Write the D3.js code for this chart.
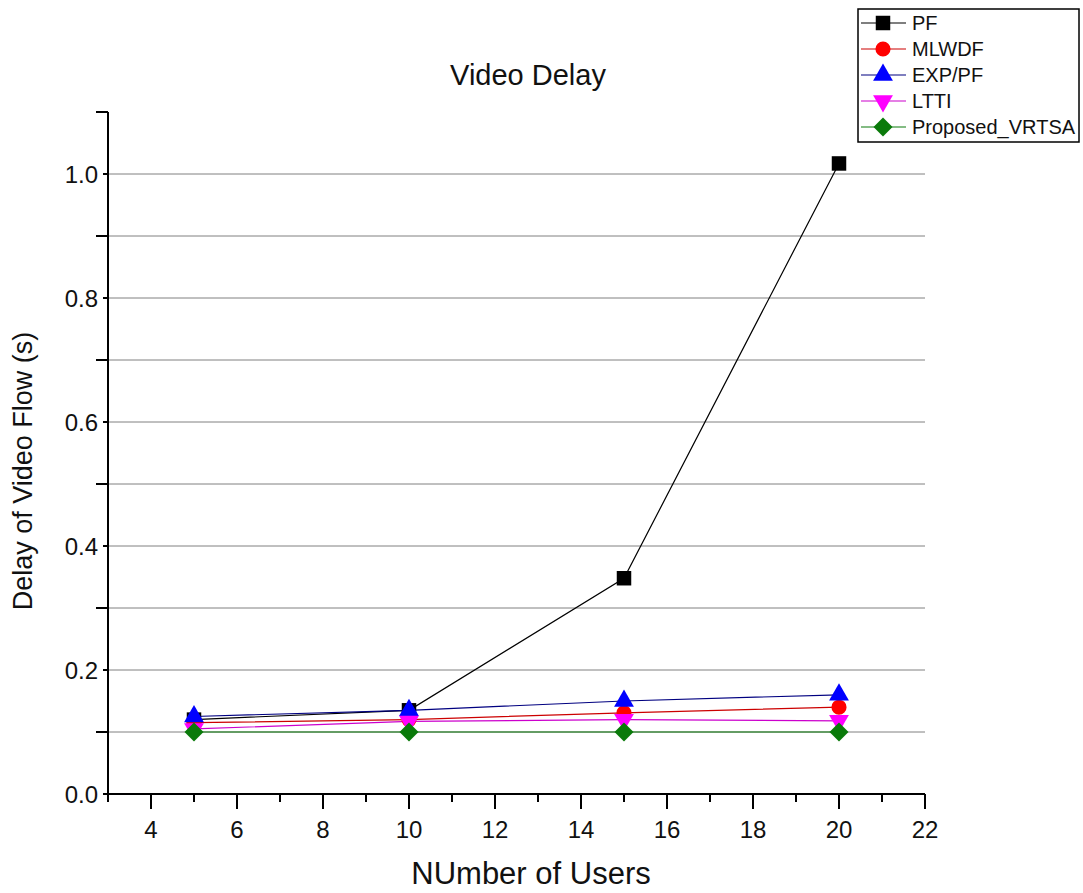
<!DOCTYPE html>
<html><head><meta charset="utf-8">
<script src="https://cdn.jsdelivr.net/npm/d3@7"></script>
<style>body{margin:0;background:#fff}svg{display:block;font-family:"Liberation Sans",Arial,sans-serif}</style>
</head><body>
<svg id="c" width="1083" height="893"></svg>
<script>
const users = [5, 10, 15, 20];
const seriesNames = ["PF", "MLWDF", "EXP/PF", "LTTI", "Proposed_VRTSA"];
const pfValues = [0.12, 0.135, 0.348, 1.017];
const mlwdfValues = [0.115, 0.12, 0.131, 0.14];
const expPfValues = [0.125, 0.135, 0.15, 0.16];
const lttiValues = [0.105, 0.117, 0.12, 0.118];
const vrtsaValues = [0.1, 0.1, 0.1, 0.1];
const xTicks = [4, 6, 8, 10, 12, 14, 16, 18, 20, 22];
const yTicks = [0.0, 0.2, 0.4, 0.6, 0.8, 1.0];

const styles = [
  {color:"#000000", line:"#000000", shape:d3.symbolSquare, size:210, rot:0},
  {color:"#ff0000", line:"#cc0000", shape:d3.symbolCircle, size:180, rot:0},
  {color:"#0000ff", line:"#000080", shape:d3.symbolTriangle, size:170, rot:0},
  {color:"#ff00ff", line:"#cc00cc", shape:d3.symbolTriangle, size:170, rot:180},
  {color:"#0a7a0a", line:"#0a7a0a", shape:d3.symbolSquare, size:180, rot:45}
];
const allValues = [pfValues, mlwdfValues, expPfValues, lttiValues, vrtsaValues];

const svg = d3.select("#c");
const x = d3.scaleLinear().domain([3, 22]).range([108, 925]);
const y = d3.scaleLinear().domain([0, 1.1]).range([794, 112]);

// grid
const gridVals = d3.range(1, 11).map(i => i / 10);
svg.append("g").selectAll("line").data(gridVals).join("line")
  .attr("x1", x(3)).attr("x2", x(22)).attr("y1", d => y(d)).attr("y2", d => y(d))
  .attr("stroke", "#808080").attr("stroke-width", 1);

// x axis
const xg = svg.append("g").attr("transform", `translate(0,${y(0)})`);
xg.append("line").attr("x1", x(3)).attr("x2", x(22)).attr("stroke", "#000").attr("stroke-width", 2);
const xMinor = d3.range(3, 23);
xg.selectAll("line.t").data(xMinor).join("line").attr("class","t")
  .attr("x1", d => x(d)).attr("x2", d => x(d)).attr("y1", 0)
  .attr("y2", d => xTicks.includes(d) ? 15 : 8)
  .attr("stroke", "#000").attr("stroke-width", 2);
xg.selectAll("text").data(xTicks).join("text")
  .attr("x", d => x(d)).attr("y", 44).attr("text-anchor", "middle")
  .attr("font-size", 24).attr("fill", "#111").text(d => d);

// y axis
const yg = svg.append("g").attr("transform", `translate(${x(3)},0)`);
yg.append("line").attr("y1", y(0)).attr("y2", y(1.1)).attr("stroke", "#000").attr("stroke-width", 2);
const yAll = d3.range(0, 12).map(i => i / 10);
yg.selectAll("line.t").data(yAll).join("line").attr("class","t")
  .attr("y1", d => y(d)).attr("y2", d => y(d)).attr("x1", 0)
  .attr("x2", (d, i) => i % 2 === 0 ? -5 : -12)
  .attr("stroke", "#000").attr("stroke-width", 2);
yg.selectAll("text").data(yTicks).join("text")
  .attr("x", -10).attr("y", d => y(d)).attr("dy", "0.36em").attr("text-anchor", "end")
  .attr("font-size", 24).attr("fill", "#111").text(d => d.toFixed(1));

// labels
svg.append("text").attr("x", 528).attr("y", 85).attr("text-anchor", "middle")
  .attr("font-size", 29).attr("fill", "#111").text("Video Delay");
svg.append("text").attr("x", 531).attr("y", 884).attr("text-anchor", "middle")
  .attr("font-size", 31).attr("fill", "#111").text("NUmber of Users");
svg.append("text").attr("transform", "translate(32,471) rotate(-90)").attr("text-anchor", "middle")
  .attr("font-size", 27).attr("fill", "#111").text("Delay of Video Flow (s)");

// series
const line = d3.line().x((d, i) => x(users[i])).y(d => y(d));
allValues.forEach((vals, s) => {
  const st = styles[s];
  svg.append("path").attr("d", line(vals)).attr("fill", "none")
    .attr("stroke", st.line).attr("stroke-width", 1.2);
});
allValues.forEach((vals, s) => {
  const st = styles[s];
  svg.append("g").selectAll("path").data(vals).join("path")
    .attr("d", d3.symbol().type(st.shape).size(st.size))
    .attr("transform", (d, i) => `translate(${x(users[i])},${y(d)}) rotate(${st.rot})`)
    .attr("fill", st.color);
});

// legend
const lg = svg.append("g");
lg.append("rect").attr("x", 858).attr("y", 9).attr("width", 221).attr("height", 133)
  .attr("fill", "#fff").attr("stroke", "#000").attr("stroke-width", 1.5);
seriesNames.forEach((name, s) => {
  const st = styles[s];
  const cy = 23 + s * 26;
  lg.append("line").attr("x1", 861).attr("x2", 906).attr("y1", cy).attr("y2", cy)
    .attr("stroke", st.line).attr("stroke-width", 1.2);
  lg.append("path").attr("d", d3.symbol().type(st.shape).size(st.size))
    .attr("transform", `translate(883,${cy}) rotate(${st.rot})`).attr("fill", st.color);
  lg.append("text").attr("x", 912).attr("y", cy).attr("dy", "0.36em")
    .attr("font-size", 20).attr("fill", "#111").text(name);
});
</script>
</body></html>
